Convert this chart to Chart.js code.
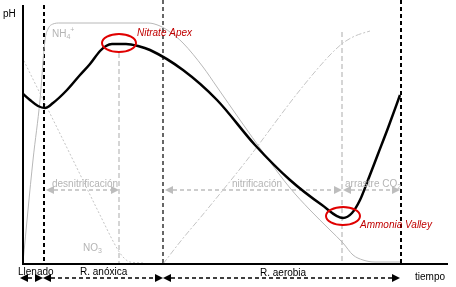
<!DOCTYPE html>
<html>
<head>
<meta charset="utf-8">
<script src="https://cdn.jsdelivr.net/npm/chart.js@4"></script>
<style>
html, body { margin: 0; padding: 0; background: #fff; }
canvas { display: block; }
</style>
</head>
<body>
<canvas id="chart" width="456" height="287"></canvas>
<script>
// time (x) and level (y), origin at the axes corner
var phTime  = [0, 8, 16, 23, 31, 45, 58, 68, 78, 84, 90, 104, 116, 128, 161, 195, 233, 268, 300, 321, 330, 338, 346, 356, 366, 378];
var phLevel = [171, 164, 158, 156, 161, 174, 189, 200, 213, 218, 220, 220, 218, 214, 194, 164, 119, 84, 59, 46, 51, 64, 84, 110, 136, 169];

var nh4Time  = [1, 11, 18, 23, 26, 31, 38, 126, 138, 148, 161, 181, 195, 218, 243, 268, 288, 308, 321, 331, 341, 353, 378];
var nh4Level = [2, 104, 164, 224, 235, 240, 241, 241, 238, 232, 221, 197, 177, 144, 109, 76, 54, 34, 21, 9, 4, 2, 2];

// nitrate falling during the anoxic phase
var no3Time  = [0, 51, 78, 96, 102, 108, 123];
var no3Level = [207, 104, 49, 14, 6, 2, 1];

// nitrate rising during the aerobic phase
var no3bTime  = [141, 158, 183, 225, 278, 308, 321, 333, 348];
var no3bLevel = [0, 22, 52, 104, 174, 209, 221, 228, 233];

// phases along the time axis
var phaseNames = ["Llenado", "R. anóxica", "R. aerobia"];
var phaseStart = [-2, 21, 141];
var phaseEnd   = [21, 141, 378];

var processStart = [24, 143, 321];
var processEnd   = [97, 320, 378];

var apexTime = 97;
var valleyTime = 320;

function pts(xs, ys) {
    var out = [];
    for (var i = 0; i < xs.length; i++) out.push({x: xs[i], y: ys[i]});
    return out;
}

function vline(x, top, color, width, dash) {
    return {
        data: [{x: x, y: top}, {x: x, y: 0}],
        borderColor: color,
        borderWidth: width,
        borderDash: dash,
        pointRadius: 0,
        showLine: true,
        clip: false,
        order: 5
    };
}

// texts placed in data units
var labels = [
    {x: -19, y: 250, parts: [["pH", 0]], color: "#000", style: ""},
    {x: 30, y: 230, parts: [["NH", 0], ["4", 3], ["+", -4]], color: "#b4b4b4", style: ""},
    {x: 115, y: 231, parts: [["Nitrate Apex", 0]], color: "#c00000", style: "italic "},
    {x: 30, y: 80, parts: [["desnitrificación", 0]], color: "#b4b4b4", style: ""},
    {x: 210, y: 80, parts: [["nitrificación", 0]], color: "#b4b4b4", style: ""},
    {x: 323, y: 80, parts: [["arrastre CO", 0], ["2", 3]], color: "#b4b4b4", style: ""},
    {x: 61, y: 16, parts: [["NO", 0], ["3", 3]], color: "#b4b4b4", style: ""},
    {x: 338, y: 39, parts: [["Ammonia Valley", 0]], color: "#c00000", style: "italic "},
    {x: -4, y: -8, parts: [[phaseNames[0], 0]], color: "#000", style: ""},
    {x: 58, y: -8, parts: [[phaseNames[1], 0]], color: "#000", style: ""},
    {x: 238, y: -9, parts: [[phaseNames[2], 0]], color: "#000", style: ""},
    {x: 393, y: -13, parts: [["tiempo", 0]], color: "#000", style: ""}
];

function arrow(ctx, x1, x2, y, color) {
    ctx.save();
    ctx.strokeStyle = color;
    ctx.fillStyle = color;
    ctx.lineWidth = 1.5;
    ctx.setLineDash([4, 3]);
    ctx.beginPath();
    ctx.moveTo(x1 + 8, y);
    ctx.lineTo(x2 - 8, y);
    ctx.stroke();
    ctx.setLineDash([]);
    ctx.beginPath();
    ctx.moveTo(x1, y); ctx.lineTo(x1 + 8, y - 4); ctx.lineTo(x1 + 8, y + 4);
    ctx.closePath(); ctx.fill();
    ctx.beginPath();
    ctx.moveTo(x2, y); ctx.lineTo(x2 - 8, y - 4); ctx.lineTo(x2 - 8, y + 4);
    ctx.closePath(); ctx.fill();
    ctx.restore();
}

var decor = {
    id: 'decor',
    beforeDatasetsDraw: function(chart) {
        var ctx = chart.ctx, sx = chart.scales.x, sy = chart.scales.y;
        var i;
        // gray process arrows
        for (i = 0; i < processStart.length; i++) {
            arrow(ctx, sx.getPixelForValue(processStart[i]), sx.getPixelForValue(processEnd[i]), sy.getPixelForValue(74), "#bdbdbd");
        }
    },
    afterDatasetsDraw: function(chart) {
        var ctx = chart.ctx, sx = chart.scales.x, sy = chart.scales.y;
        var a = chart.chartArea;
        var i;
        ctx.save();
        // axes
        ctx.strokeStyle = "#000";
        ctx.lineWidth = 2;
        ctx.beginPath();
        ctx.moveTo(a.left + 1, a.top);
        ctx.lineTo(a.left + 1, a.bottom);
        ctx.moveTo(a.left, a.bottom);
        ctx.lineTo(a.right, a.bottom);
        ctx.stroke();

        // red marks
        ctx.strokeStyle = "#e00000";
        ctx.lineWidth = 2;
        ctx.beginPath();
        ctx.ellipse(sx.getPixelForValue(apexTime), sy.getPixelForValue(221), 17, 9, 0, 0, Math.PI * 2);
        ctx.stroke();
        ctx.beginPath();
        ctx.ellipse(sx.getPixelForValue(valleyTime + 1), sy.getPixelForValue(48), 17, 9, 0, 0, Math.PI * 2);
        ctx.stroke();

        // phase arrows
        for (i = 0; i < phaseStart.length; i++) {
            arrow(ctx, sx.getPixelForValue(phaseStart[i]), sx.getPixelForValue(phaseEnd[i]), sy.getPixelForValue(-14), "#000");
        }

        // texts
        ctx.textBaseline = "middle";
        ctx.textAlign = "left";
        labels.forEach(function(l) {
            var x = sx.getPixelForValue(l.x), y = sy.getPixelForValue(l.y);
            ctx.fillStyle = l.color;
            l.parts.forEach(function(p) {
                ctx.font = l.style + (p[1] === 0 ? "10px" : "7px") + " 'Liberation Sans', Arial, sans-serif";
                ctx.fillText(p[0], x, y + p[1]);
                x += ctx.measureText(p[0]).width;
            });
        });
        ctx.restore();
    }
};

new Chart(document.getElementById('chart').getContext('2d'), {
    type: 'scatter',
    data: {
        datasets: [
            {
                data: pts(phTime, phLevel),
                borderColor: "#000",
                borderWidth: 2.5,
                showLine: true,
                pointRadius: 0,
                cubicInterpolationMode: 'monotone',
                order: 0
            },
            {
                data: pts(nh4Time, nh4Level),
                borderColor: "#b8b8b8",
                borderWidth: 1,
                showLine: true,
                pointRadius: 0,
                cubicInterpolationMode: 'monotone',
                order: 3
            },
            {
                data: pts(no3Time, no3Level),
                borderColor: "#c4c4c4",
                borderWidth: 1,
                borderDash: [2, 2],
                showLine: true,
                pointRadius: 0,
                cubicInterpolationMode: 'monotone',
                order: 3
            },
            {
                data: pts(no3bTime, no3bLevel),
                borderColor: "#c4c4c4",
                borderWidth: 1,
                borderDash: [6, 2, 2, 2],
                showLine: true,
                pointRadius: 0,
                cubicInterpolationMode: 'monotone',
                order: 3
            },
            vline(phaseEnd[0] + 1, 259, "#000", 2, [4, 3]),
            vline(phaseEnd[1], 264, "#666", 2, [4, 3]),
            vline(phaseEnd[2] + 1, 264, "#000", 2, [4, 3]),
            vline(apexTime, 211, "#c8c8c8", 1.5, [5, 3]),
            vline(valleyTime, 232, "#c8c8c8", 1.5, [5, 3])
        ]
    },
    options: {
        responsive: false,
        animation: false,
        layout: { padding: {left: 22, right: 8, top: 5, bottom: 23} },
        plugins: { legend: { display: false }, tooltip: { enabled: false } },
        scales: {
            x: { type: 'linear', min: 0, max: 426, display: false },
            y: { type: 'linear', min: 0, max: 259, display: false }
        }
    },
    plugins: [decor]
});
</script>
</body>
</html>
